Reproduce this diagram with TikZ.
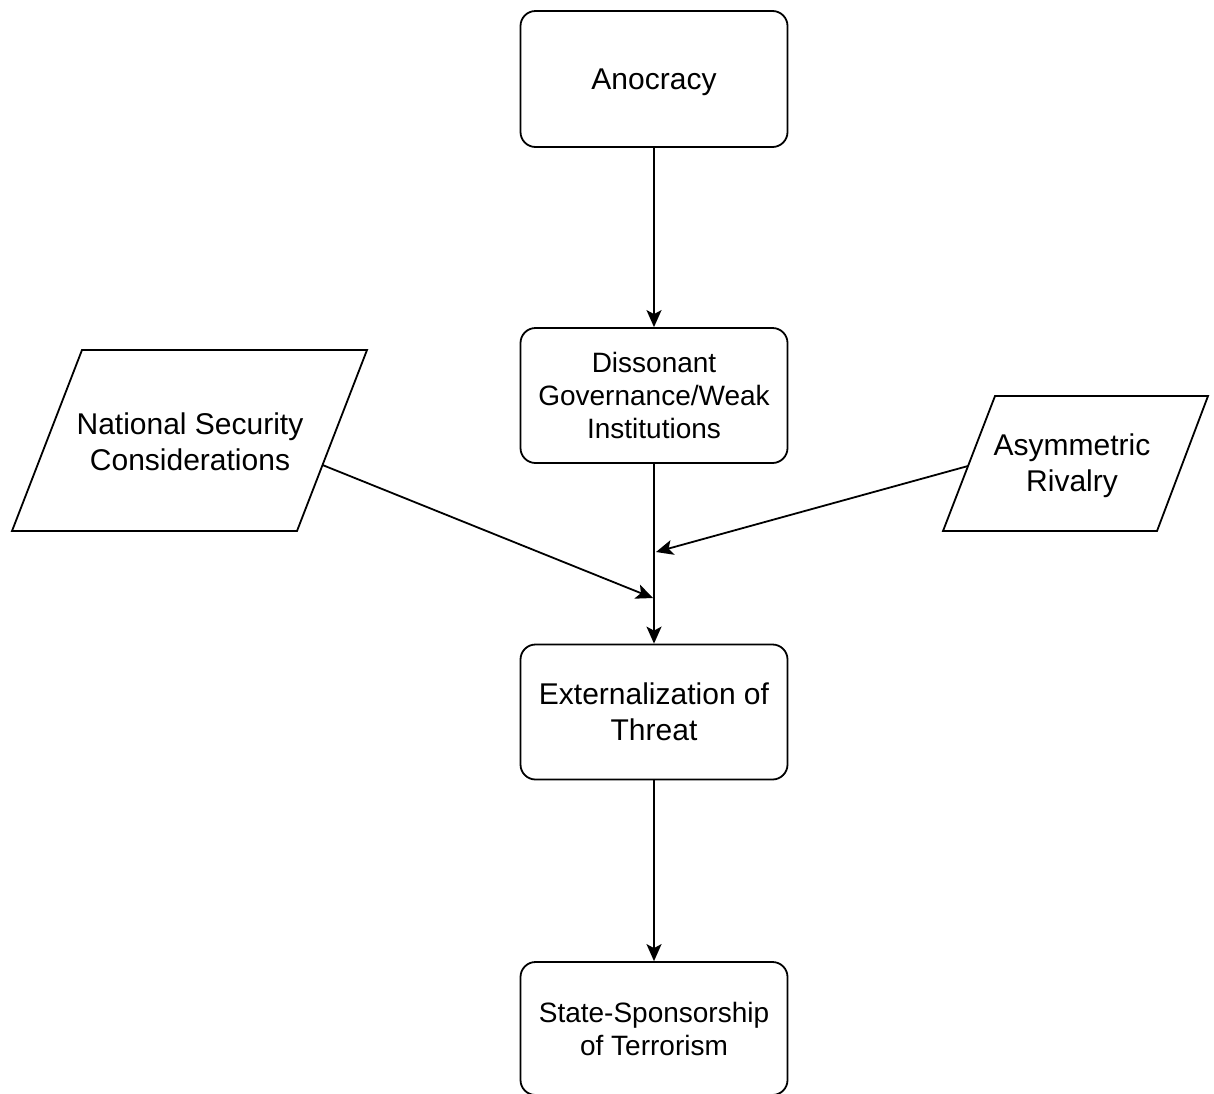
\documentclass[tikz,border=0pt]{standalone}
\usepackage{fontspec}
\setmainfont{Liberation Sans}
\usetikzlibrary{arrows.meta}
\begin{document}
\begin{tikzpicture}[x=1pt,y=-1pt,
  box/.style={draw, line width=1.8pt, rounded corners=15pt, minimum width=267pt, minimum height=135pt, align=center, inner sep=0pt, text depth=0pt},
  big/.style={font=\fontsize{30}{36}\selectfont},
  small/.style={font=\fontsize{28}{33}\selectfont},
  para/.style={draw, line width=1.8pt, line join=miter},
  arr/.style={line width=1.8pt, -{Stealth[length=17pt,width=15pt,inset=4pt]}},
  lbl/.style={align=center, inner sep=0pt, text depth=0pt}]
\useasboundingbox (0,0) rectangle (1214,1093);

% boxes
\node[box,big,minimum height=136pt] (ano) at (654,79) {Anocracy};
\node[box,small] (dis) at (654,395.5) {Dissonant\\Governance/Weak\\Institutions};
\node[box,big] (ext) at (654,712) {Externalization of\\Threat};
\node[box,small,minimum height=133pt] (ssp) at (654,1028.5) {State-Sponsorship\\of Terrorism};

% parallelograms
\coordinate (n1) at (82,350);
\coordinate (n2) at (367,350);
\coordinate (n3) at (297,531);
\coordinate (n4) at (12,531);
\draw[para] (n1) -- (n2) -- (n3) -- (n4) -- cycle;
\node[lbl,big] (nat) at (190,441.5) {National Security\\Considerations};

\coordinate (a1) at (995,396);
\coordinate (a2) at (1208,396);
\coordinate (a3) at (1157,531);
\coordinate (a4) at (943,531);
\draw[para] (a1) -- (a2) -- (a3) -- (a4) -- cycle;
\node[lbl,big] (asy) at (1072,463) {Asymmetric\\Rivalry};

% connector ends
\coordinate (natR) at (322.5,465);
\coordinate (asyL) at (968,466);
\coordinate (j1) at (653,598);
\coordinate (j2) at (656,552);

% connectors
\draw[arr] (ano) -- (dis);
\draw[arr] (dis) -- (ext);
\draw[arr] (ext) -- (ssp);
\draw[arr] (natR) -- (j1);
\draw[arr] (asyL) -- (j2);
\end{tikzpicture}
\end{document}
